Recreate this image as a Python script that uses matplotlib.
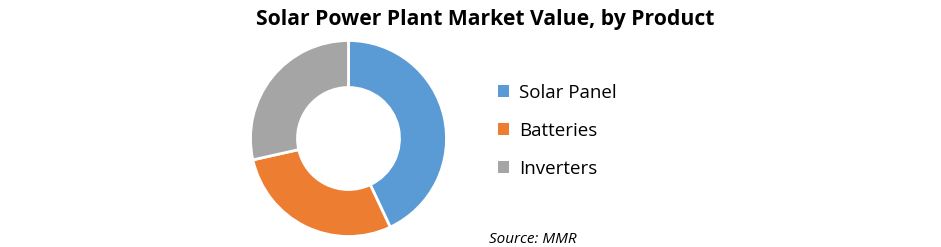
import matplotlib.pyplot as plt

labels = ["Solar Panel", "Batteries", "Inverters"]
values = [43, 28.5, 28.5]
colors = ["#5B9BD5", "#ED7D31", "#A5A5A5"]

plt.rcParams['font.family'] = ['Open Sans', 'DejaVu Sans']

fig = plt.figure(figsize=(9.41, 2.47), dpi=100)

# donut centred at about (348, 138) px, radius ~98 px
ax = fig.add_axes([(348.5 - 100) / 941, 1 - (138.5 + 100) / 247, 200 / 941, 200 / 247])
wedges, _ = ax.pie(values, colors=colors, startangle=90, counterclock=False,
                   radius=0.98, wedgeprops=dict(width=0.47, edgecolor="white", linewidth=2))
ax.set_xlim(-1, 1)
ax.set_ylim(-1, 1)
ax.set_aspect("equal")

fig.text(485 / 941, 1 - 19 / 247, "Solar Power Plant Market Value, by Product",
         ha="center", va="center", fontsize=15.2, fontweight="bold")

leg = fig.legend(wedges, labels, loc="upper left", bbox_to_anchor=(490 / 941, 1 - 76 / 247),
                 frameon=False, fontsize=13.5, handlelength=0.6, handleheight=0.6,
                 handletextpad=0.55, labelspacing=1.08, borderaxespad=0)
for h in leg.legend_handles:
    h.set_edgecolor("none")

fig.text(533 / 941, 1 - 239 / 247, "Source: MMR", ha="center", va="center",
         fontsize=11, style="italic")

fig.savefig("out.png", dpi=100)
